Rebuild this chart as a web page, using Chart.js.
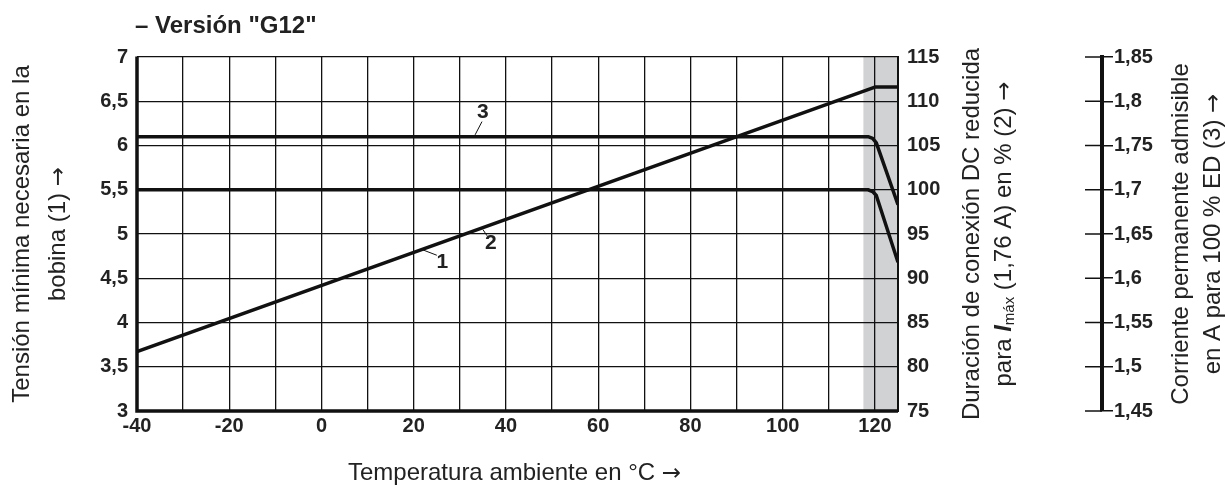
<!DOCTYPE html>
<html>
<head>
<meta charset="utf-8">
<script src="https://cdn.jsdelivr.net/npm/chart.js@4.4.1/dist/chart.umd.min.js"></script>
<style>
  html, body { margin: 0; padding: 0; background: #ffffff; }
  #wrap { position: relative; width: 1225px; height: 486px; }
</style>
</head>
<body>
<div id="wrap"><canvas id="c" width="1225" height="486"></canvas></div>
<script>
// ---------- data ----------
const chartTitle = '\u2013 Versi\u00f3n "G12"';
const xTicks = [-40, -30, -20, -10, 0, 10, 20, 30, 40, 50, 60, 70, 80, 90, 100, 110, 120];
const voltTicks = [3, 3.5, 4, 4.5, 5, 5.5, 6, 6.5, 7];
const pctTicks = [75, 80, 85, 90, 95, 100, 105, 110, 115];
const ampTicks = [1.45, 1.5, 1.55, 1.6, 1.65, 1.7, 1.75, 1.8, 1.85];

// curve 1: minimum coil voltage (V)
const temp1 = [-40, 120, 125];
const volt1 = [3.67, 6.66, 6.66];
// curve 2: reduced duty cycle (%)
const temp2 = [-40, 118.5, 119.5, 120.3, 125];
const pct2 = [100, 100, 99.8, 99.35, 91.8];
// curve 3: permissible continuous current (A)
const temp3 = [-40, 118.5, 119.5, 120.3, 125];
const amp3 = [1.76, 1.76, 1.758, 1.753, 1.683];

const shadedFrom = 117.5, shadedTo = 125;

// curve labels (temperature, voltage-axis value)
const curveLabels = ['1', '2', '3'];
const labelTemp = [26.2, 36.7, 35.0];
const labelVolt = [4.68, 4.9, 6.38];
const leaderFromTemp = [22.0, 35.0, 33.3];
const leaderFromVolt = [4.82, 5.05, 6.12];
const leaderToTemp = [25.0, 35.9, 34.8];
const leaderToVolt = [4.76, 4.98, 6.27];

const ARROW = '\u2192';
const titleLeft = ['Tensi\u00f3n m\u00ednima necesaria en la', 'bobina (1) '];
const titleBottom = 'Temperatura ambiente en \u00b0C ';
const titleRight1a = 'Duraci\u00f3n de conexi\u00f3n DC reducida';
const titleRight2 = ['Corriente permanente admisible', 'en A para 100 % ED (3) '];

// ---------- styling ----------
const TICK_FONT = { family: '"Liberation Sans", Arial, sans-serif', size: 20, weight: 'bold' };
const TXT = '#222222';
const TITLE_FONT = '24px "Liberation Sans", Arial, sans-serif';
const ARROW_FONT = '23px "DejaVu Sans", sans-serif';

function commaFmt(v) { return String(v).replace('.', ','); }
function pts(xs, ys) { return xs.map((x, i) => ({ x: x, y: ys[i] })); }

// draw a run of text parts centred on (0,0) of the current transform
function drawParts(ctx, parts) {
  ctx.textBaseline = 'middle';
  ctx.textAlign = 'left';
  let total = 0;
  parts.forEach(p => { ctx.font = p.f; p.w = ctx.measureText(p.t).width; total += p.w; });
  let cx = -total / 2;
  parts.forEach(p => { ctx.font = p.f; ctx.fillText(p.t, cx, p.dy || 0); cx += p.w; });
}

const decor = {
  id: 'decor',
  beforeDraw(chart) {
    const { ctx, chartArea: a, scales } = chart;
    const x0 = scales.x.getPixelForValue(shadedFrom);
    const x1 = scales.x.getPixelForValue(shadedTo);
    ctx.save();
    ctx.fillStyle = '#d1d2d4';
    ctx.fillRect(x0, a.top, x1 - x0, a.bottom - a.top);
    ctx.restore();
  },
  afterDraw(chart) {
    const { ctx, chartArea: a, scales } = chart;
    const xs = scales.x, ys = scales.y, y2 = scales.y2;
    ctx.save();
    // thick left and bottom axis lines
    ctx.strokeStyle = '#111';
    ctx.lineWidth = 3.5;
    ctx.beginPath();
    ctx.moveTo(a.left, a.top - 0.5);
    ctx.lineTo(a.left, a.bottom);
    ctx.lineTo(a.right, a.bottom);
    ctx.stroke();

    // third axis: left halves of tick marks
    const axX = y2.left;
    ctx.lineWidth = 1.5;
    ampTicks.forEach(v => {
      const py = y2.getPixelForValue(v);
      ctx.beginPath();
      ctx.moveTo(axX - 17, py);
      ctx.lineTo(axX, py);
      ctx.stroke();
    });

    // curve labels and leaders
    ctx.fillStyle = TXT;
    ctx.font = 'bold 21px "Liberation Sans", Arial, sans-serif';
    ctx.textAlign = 'center';
    ctx.textBaseline = 'middle';
    ctx.lineWidth = 1;
    curveLabels.forEach((t, i) => {
      ctx.fillText(t, xs.getPixelForValue(labelTemp[i]), ys.getPixelForValue(labelVolt[i]));
      ctx.beginPath();
      ctx.moveTo(xs.getPixelForValue(leaderFromTemp[i]), ys.getPixelForValue(leaderFromVolt[i]));
      ctx.lineTo(xs.getPixelForValue(leaderToTemp[i]), ys.getPixelForValue(leaderToVolt[i]));
      ctx.stroke();
    });

    // chart title
    ctx.font = 'bold 24px "Liberation Sans", Arial, sans-serif';
    ctx.textAlign = 'left';
    ctx.textBaseline = 'alphabetic';
    ctx.fillText(chartTitle, 135, 33);

    // bottom title
    ctx.save();
    ctx.translate((a.left + a.right) / 2 - 3, 473);
    drawParts(ctx, [{ t: titleBottom, f: TITLE_FONT }, { t: ARROW, f: ARROW_FONT, dy: 1 }]);
    ctx.restore();

    const cy = (a.top + a.bottom) / 2;
    function vparts(x, parts) {
      ctx.save();
      ctx.translate(x, cy);
      ctx.rotate(-Math.PI / 2);
      drawParts(ctx, parts);
      ctx.restore();
    }
    vparts(22, [{ t: titleLeft[0], f: TITLE_FONT }]);
    vparts(58, [{ t: titleLeft[1], f: TITLE_FONT }, { t: ARROW, f: ARROW_FONT, dy: 1 }]);
    vparts(972, [{ t: titleRight1a, f: TITLE_FONT }]);
    vparts(1004, [
      { t: 'para ', f: TITLE_FONT },
      { t: 'I', f: 'italic bold 24px "Liberation Sans", Arial, sans-serif' },
      { t: 'm\u00e1x', f: '15px "Liberation Sans", Arial, sans-serif', dy: 6 },
      { t: ' (1,76 A) en % (2) ', f: TITLE_FONT },
      { t: ARROW, f: ARROW_FONT, dy: 1 }
    ]);
    vparts(1181, [{ t: titleRight2[0], f: TITLE_FONT }]);
    vparts(1213, [{ t: titleRight2[1], f: TITLE_FONT }, { t: ARROW, f: ARROW_FONT, dy: 1 }]);

    ctx.restore();
  }
};

const ctx = document.getElementById('c').getContext('2d');
new Chart(ctx, {
  type: 'line',
  data: {
    datasets: [
      { label: '1', data: pts(temp1, volt1), yAxisID: 'y' },
      { label: '2', data: pts(temp2, pct2), yAxisID: 'y1' },
      { label: '3', data: pts(temp3, amp3), yAxisID: 'y2' }
    ]
  },
  options: {
    responsive: false,
    animation: false,
    events: [],
    layout: { padding: { top: 57, left: 0, right: 0, bottom: 0 } },
    elements: {
      line: { borderColor: '#111', borderWidth: 3.5, tension: 0, borderJoinStyle: 'round', borderCapStyle: 'butt' },
      point: { radius: 0 }
    },
    plugins: { legend: { display: false }, tooltip: { enabled: false } },
    scales: {
      x: {
        type: 'linear', min: -40, max: 125,
        afterBuildTicks: s => { s.ticks = xTicks.map(v => ({ value: v })); },
        afterFit: s => { s.height = 75; },
        grid: { color: '#111', lineWidth: 1.3, drawTicks: false },
        border: { display: false },
        ticks: {
          color: TXT, font: TICK_FONT, padding: 3, maxRotation: 0, autoSkip: false,
          callback: v => (v % 20 === 0 ? String(v) : '')
        }
      },
      y: {
        type: 'linear', position: 'left', min: 3, max: 7,
        afterBuildTicks: s => { s.ticks = voltTicks.map(v => ({ value: v })); },
        afterFit: s => { s.width = 137; },
        grid: { color: '#111', lineWidth: 1.3, drawTicks: false },
        border: { display: false },
        ticks: { color: TXT, font: TICK_FONT, padding: 9, callback: v => commaFmt(v) }
      },
      y1: {
        type: 'linear', position: 'right', min: 75, max: 115,
        afterBuildTicks: s => { s.ticks = pctTicks.map(v => ({ value: v })); },
        afterFit: s => { s.width = 204; },
        grid: { drawOnChartArea: false, drawTicks: false },
        border: { display: true, color: '#111', width: 2 },
        ticks: { color: TXT, font: TICK_FONT, padding: 9, callback: v => commaFmt(v) }
      },
      y2: {
        type: 'linear', position: 'right', min: 1.45, max: 1.85,
        afterBuildTicks: s => { s.ticks = ampTicks.map(v => ({ value: v })); },
        afterFit: s => { s.width = 123; },
        grid: { drawOnChartArea: false, drawTicks: true, tickLength: 11, color: '#111', lineWidth: 1.5 },
        border: { display: true, color: '#111', width: 4 },
        ticks: { color: TXT, font: TICK_FONT, padding: 1, callback: v => commaFmt(v) }
      }
    }
  },
  plugins: [decor]
});
</script>
</body>
</html>
